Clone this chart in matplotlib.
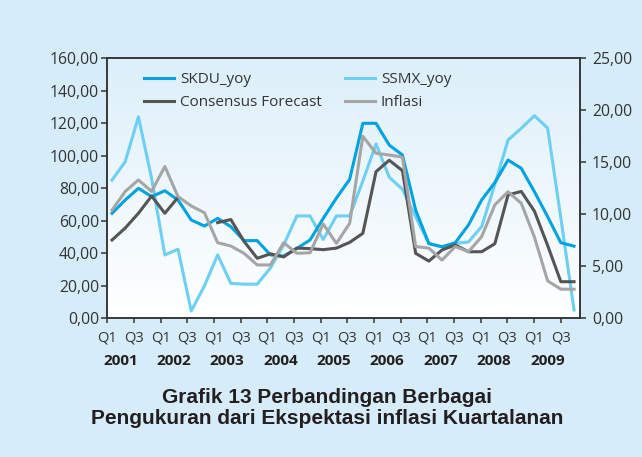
import matplotlib
matplotlib.use("Agg")
import matplotlib.pyplot as plt
import numpy as np

# quarterly series Q1 2001 .. Q4 2009 (36 quarters)
years = [2001, 2002, 2003, 2004, 2005, 2006, 2007, 2008, 2009]
q_labels = ["Q1", "Q3"] * 9

# left axis (balance indices)
skdu = [64.6, 72.8, 80.0, 74.9, 78.5, 72.8, 60.5, 56.8, 61.5, 56.4, 47.8, 47.8,
        39.0, 38.3, 43.0, 48.2, 61.5, 74.0, 85.5, 120.0, 120.0, 106.6, 100.5, 66.7,
        46.0, 44.0, 46.5, 57.4, 72.8, 83.5, 97.4, 92.3, 77.9, 62.5, 46.5, 44.4]
ssmx = [85.1, 96.4, 124.0, 86.0, 39.0, 42.5, 4.5, 20.0, 39.0, 21.5, 21.0, 21.0,
        31.0, 45.0, 63.0, 63.0, 48.5, 63.0, 63.0, 84.5, 107.3, 86.8, 79.4, 62.5,
        46.0, 44.0, 46.0, 47.0, 56.4, 82.4, 109.7, 116.9, 124.7, 117.0, 61.7, 5.1]

# right axis (percent)
consensus = [7.53, 8.68, 10.1, 11.76, 10.1, 11.63, np.nan, np.nan, 9.2, 9.5, 7.4, 5.77,
             6.2, 5.9, 6.75, 6.7, 6.6, 6.75, 7.3, 8.17, 14.1, 15.2, 14.2, 6.25,
             5.5, 6.57, 7.05, 6.4, 6.4, 7.17, 11.86, 12.2, 10.3, 7.0, 3.52, 3.52]
inflasi = [10.4, 12.2, 13.3, 12.2, 14.6, 11.7, 10.8, 10.15, 7.27, 6.95, 6.25, 5.13,
           5.13, 7.27, 6.25, 6.3, 9.07, 7.2, 9.13, 17.5, 15.87, 15.7, 15.5, 6.9,
           6.75, 5.6, 6.9, 6.4, 7.85, 10.9, 12.17, 11.06, 7.8, 3.6, 2.8, 2.8]

x = np.arange(len(skdu))

c_skdu = "#00a3e0"
c_ssmx = "#6dcff2"
c_cf = "#555555"
c_inf = "#a5a5a5"
txt = "#333333"

fig = plt.figure(figsize=(6.42, 4.57), dpi=100)
fig.patch.set_facecolor("#d6ecf9")
ax = fig.add_axes([0.1671, 0.3035, 0.7363, 0.5689])

# soft gradient in the plot area, light blue at the top to white
grad = np.linspace(1, 0, 256).reshape(-1, 1)
cmap = matplotlib.colors.LinearSegmentedColormap.from_list("bg", ["#ffffff", "#dceffa"])
ax.imshow(grad, extent=[0, 1, 0, 1], transform=ax.transAxes, aspect="auto",
          cmap=cmap, zorder=0)

ax.plot(x, skdu, color=c_skdu, lw=2.2, label="SKDU_yoy", zorder=3)
ax.plot(x, ssmx, color=c_ssmx, lw=2.2, label="SSMX_yoy", zorder=2)

ax2 = ax.twinx()
ax2.plot(x, consensus, color=c_cf, lw=2.2, label="Consensus Forecast")
ax2.plot(x, inflasi, color=c_inf, lw=2.2, label="Inflasi")

ax.set_xlim(-0.36, 35.45)
ax.set_ylim(0, 160)
ax2.set_ylim(0, 25)

ticks = np.linspace(-0.36, 33.98, 18)
ax.set_xticks(ticks)
ax.set_xticklabels(q_labels)
ax.set_yticks(np.arange(0, 161, 20))
ax.set_yticklabels([f"{v},00" for v in range(0, 161, 20)])
ax2.set_yticks(np.arange(0, 26, 5))
ax2.set_yticklabels([f"{v},00" for v in range(0, 26, 5)])

font = "Open Sans"
for lab in ax.get_yticklabels() + ax2.get_yticklabels():
    lab.set_fontfamily(font)
    lab.set_fontsize(11.3)
    lab.set_color(txt)
for lab in ax.get_xticklabels():
    lab.set_fontfamily(font)
    lab.set_fontsize(10.5)
    lab.set_color(txt)

ax.tick_params(axis="y", length=4.5, width=1.1, color=txt, pad=1.5)
ax.tick_params(axis="x", length=3.6, width=1.1, color=txt, pad=5)
ax2.tick_params(axis="y", length=4.5, width=1.1, color=txt, pad=4)

for a in (ax, ax2):
    for s in a.spines.values():
        s.set_color(txt)
        s.set_linewidth(1.1)

# year labels under each pair of quarter labels
for k, yr in enumerate(years):
    xm = (ticks[2 * k] + ticks[2 * k + 1]) / 2
    ax.text(xm, -0.163, str(yr), transform=ax.get_xaxis_transform(), ha="center",
            va="center", fontsize=11, fontweight="bold", family=font, color="#231f20")

# legends: two columns placed separately
h1, l1 = ax.get_legend_handles_labels()
h2, l2 = ax2.get_legend_handles_labels()
leg_kw = dict(frameon=False, handlelength=1.95, handletextpad=0.4,
              labelspacing=0.5, borderaxespad=0, prop={"family": font, "size": 11})
leg1 = ax2.legend([h1[0], h2[0]], [l1[0], l2[0]], loc="upper left",
                  bbox_to_anchor=(0.065, 0.97), **leg_kw)
for t in leg1.get_texts():
    t.set_color(txt)
ax2.add_artist(leg1)
leg2 = ax2.legend([h1[1], h2[1]], [l1[1], l2[1]], loc="upper left",
                  bbox_to_anchor=(0.49, 0.97), **leg_kw)
for t in leg2.get_texts():
    t.set_color(txt)

fig.text(0.51, 0.108, "Grafik 13 Perbandingan Berbagai\nPengukuran dari Ekspektasi inflasi Kuartalanan",
         ha="center", va="center", fontsize=15, fontweight="bold",
         family="Liberation Sans", color="#231f20", linespacing=1.12)

fig.savefig("out.png", dpi=100, facecolor=fig.get_facecolor())
